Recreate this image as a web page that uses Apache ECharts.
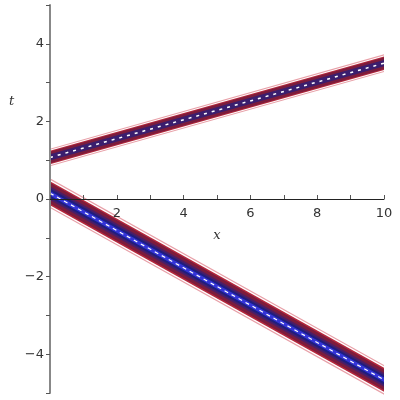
<!DOCTYPE html>
<html>
<head>
<meta charset="utf-8">
<script src="https://cdn.jsdelivr.net/npm/echarts@6/dist/echarts.min.js"></script>
<style>
  html, body { margin: 0; padding: 0; background: #fff; }
  #main { width: 400px; height: 400px; }
</style>
</head>
<body>
<div id="main"></div>
<script>
// band ends: t at x = 0 and x = 10
const xEnds = [0, 10];
const upperBand = [1.07, 3.5];
const lowerBand = [0.15, -4.66];

// contour layers, outside in (width across the band, px)
const upperLayers = [
  { color: '#e8a0a8', width: 17 },
  { color: '#ffffff', width: 15 },
  { color: '#b4283c', width: 13 },
  { color: '#7c1c3c', width: 11 },
  { color: '#3a1e6e', width: 6 },
  { color: '#ffffff', width: 1.5, dash: [3, 5] }
];
const lowerLayers = [
  { color: '#e8a0a8', width: 26 },
  { color: '#ffffff', width: 23.5 },
  { color: '#b4283c', width: 21 },
  { color: '#7c1c3c', width: 18 },
  { color: '#4a1e66', width: 12 },
  { color: '#1e1e80', width: 8 },
  { color: '#3434d8', width: 4 },
  { color: '#ffffff', width: 1.2, dash: [4, 4] }
];

// one custom series per band: each layer is a strip cut square at x = 0 and x = 10
function bandSeries(ends, layers) {
  return {
    type: 'custom',
    silent: true,
    z: 2,
    data: [[xEnds[0], ends[0], xEnds[1], ends[1]]],
    renderItem: (params, api) => {
      const p0 = api.coord([api.value(0), api.value(1)]);
      const p1 = api.coord([api.value(2), api.value(3)]);
      const slope = (p1[1] - p0[1]) / (p1[0] - p0[0]);
      const stretch = Math.sqrt(1 + slope * slope);
      const children = layers.map(l => {
        if (l.dash) {
          return {
            type: 'line',
            shape: { x1: p0[0], y1: p0[1], x2: p1[0], y2: p1[1] },
            style: { stroke: l.color, lineWidth: l.width, lineDash: l.dash }
          };
        }
        const h = l.width / 2 * stretch;
        return {
          type: 'polygon',
          shape: { points: [[p0[0], p0[1] - h], [p1[0], p1[1] - h], [p1[0], p1[1] + h], [p0[0], p0[1] + h]] },
          style: { fill: l.color }
        };
      });
      return { type: 'group', children: children };
    }
  };
}

const myChart = echarts.init(document.getElementById('main'));

const axisFont = { fontFamily: 'DejaVu Sans', fontSize: 13, color: '#333' };

myChart.setOption({
  animation: false,
  grid: { left: 50, right: 16, top: 5, bottom: 7, outerBoundsMode: 'none', containLabel: false },
  xAxis: {
    type: 'value',
    min: 0,
    max: 10,
    interval: 1,
    offset: -194, // put the axis at t = 0
    name: 'x',
    nameLocation: 'middle',
    nameGap: 30,
    nameTextStyle: { fontFamily: 'DejaVu Serif', fontStyle: 'italic', fontSize: 13, color: '#333' },
    axisLine: { onZero: false, lineStyle: { color: '#222', width: 1 } },
    axisTick: { inside: true, length: 4, lineStyle: { color: '#555' } },
    axisLabel: Object.assign({}, axisFont, {
      margin: 8,
      formatter: v => (v > 0 && v % 2 === 0 ? String(v) : '')
    }),
    splitLine: { show: false },
    z: 20
  },
  yAxis: {
    type: 'value',
    min: -5,
    max: 5,
    interval: 1,
    axisLine: { onZero: false, lineStyle: { color: '#888', width: 2 } },
    axisTick: { length: 4, lineStyle: { color: '#555' } },
    axisLabel: Object.assign({}, axisFont, {
      margin: 6,
      formatter: v => (v % 2 === 0 ? (v < 0 ? '\u2212' + (-v) : String(v)) : '')
    }),
    splitLine: { show: false },
    z: 20
  },
  graphic: [{
    type: 'text',
    left: 9,
    top: 95,
    style: { text: 't', font: 'italic 13px "DejaVu Serif"', fill: '#333' }
  }],
  series: [bandSeries(upperBand, upperLayers), bandSeries(lowerBand, lowerLayers)]
});
</script>
</body>
</html>
